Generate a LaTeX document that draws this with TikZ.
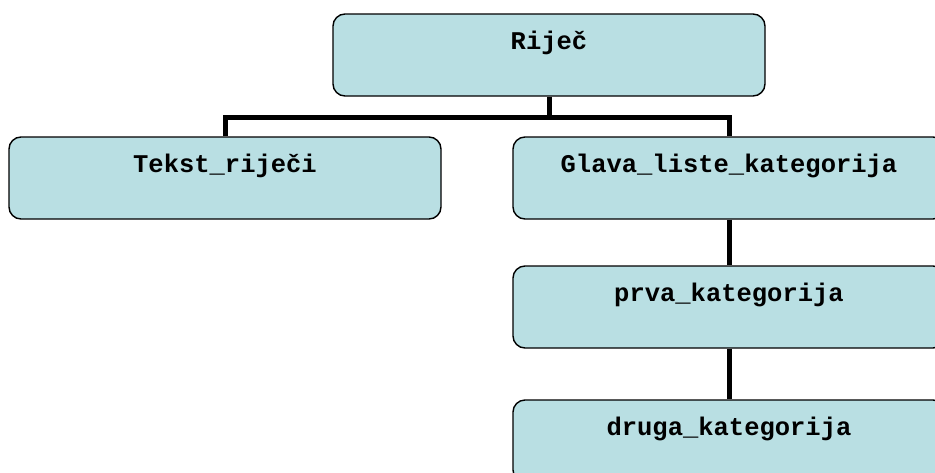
\documentclass[tikz,border=0pt]{standalone}
\usepackage{fontspec}
\newfontfamily\boxfont{Liberation Mono}
\definecolor{boxfill}{RGB}{185,223,227}
\begin{document}
\begin{tikzpicture}[x=1pt,y=-1pt,
  entity/.style={draw=black, line width=1.4pt, fill=boxfill,
    rounded corners=12pt, minimum width=432pt, minimum height=82pt,
    inner xsep=0pt, inner ysep=0pt, text height=35pt, text depth=47pt,
    font=\boxfont\bfseries\fontsize{25.5}{28}\selectfont},
  link/.style={draw=black, line width=5pt}]
  \useasboundingbox (0,0) rectangle (935,472);
  \clip (0,0) rectangle (935,472);
  % boxes of the structure
  \node[entity] (rijec)  at (549,55)  {Riječ};
  \node[entity] (tekst)  at (225,178) {Tekst\_riječi};
  \node[entity] (glava)  at (729,178) {Glava\_liste\_kategorija};
  \node[entity] (prva)   at (729,307) {prva\_kategorija};
  \node[entity] (druga)  at (729,441) {druga\_kategorija};
  % tree connectors
  \coordinate (bus) at (549,117);
  \draw[link] (rijec.south) -- (bus);
  \draw[link] (tekst.north) |- (bus) -| (glava.north);
  \draw[link] (glava.south) -- (prva.north);
  \draw[link] (prva.south) -- (druga.north);
\end{tikzpicture}
\end{document}
